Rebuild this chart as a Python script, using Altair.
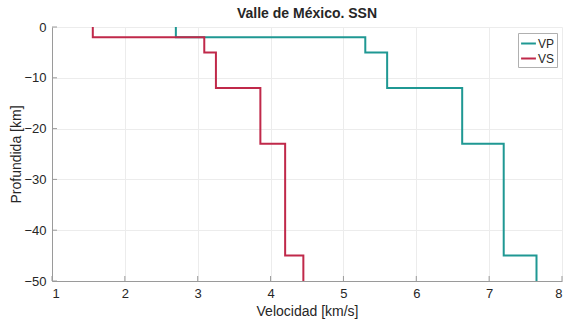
import altair as alt
import pandas as pd

# Layer boundaries (depth in km, negative downward)
depth_top = [0, -2, -5, -12, -23, -45]
depth_bottom = [-2, -5, -12, -23, -45, -50]
vp = [2.7, 5.3, 5.6, 6.63, 7.2, 7.65]
vs = [1.56, 3.09, 3.25, 3.86, 4.2, 4.45]
series = ["VP", "VS"]
colors = ["#1f9893", "#c0294a"]
x_ticks = [1, 2, 3, 4, 5, 6, 7, 8]
y_ticks = [0, -10, -20, -30, -40, -50]

rows = []
for name, vals in (("VP", vp), ("VS", vs)):
    k = 0
    for t, b, v in zip(depth_top, depth_bottom, vals):
        rows.append({"serie": name, "v": v, "z": t, "k": k}); k += 1
        rows.append({"serie": name, "v": v, "z": b, "k": k}); k += 1
df = pd.DataFrame(rows)

font = "Liberation Sans"
xscale = alt.Scale(domain=[1, 8], nice=False)
yscale = alt.Scale(domain=[-50, 0], nice=False)

lines = alt.Chart(df).mark_line(strokeWidth=2, clip=True).encode(
    x=alt.X("v:Q", scale=xscale,
            axis=alt.Axis(values=x_ticks, title="Velocidad [km/s]", format="d",
                          titlePadding=4)),
    y=alt.Y("z:Q", scale=yscale,
            axis=alt.Axis(values=y_ticks, title="Profundida [km]", format="d",
                          titlePadding=0)),
    color=alt.Color("serie:N", scale=alt.Scale(domain=series, range=colors),
                    legend=alt.Legend(title=None, orient="none", legendX=466, legendY=6,
                                      symbolType="stroke", symbolStrokeWidth=2,
                                      symbolSize=220, labelFontSize=12, labelFont=font,
                                      labelColor="#262626", rowPadding=0,
                                      strokeColor="#b0b0b0", fillColor="white",
                                      padding=2, labelOffset=1)),
    order="k:Q",
)

xt = alt.Chart(pd.DataFrame({"t": x_ticks})).mark_rule(color="#9a9a9a", strokeWidth=1).encode(
    x=alt.X("t:Q", scale=xscale), y=alt.value(254), y2=alt.value(249))
yt = alt.Chart(pd.DataFrame({"t": y_ticks})).mark_rule(color="#9a9a9a", strokeWidth=1).encode(
    y=alt.Y("t:Q", scale=yscale), x=alt.value(0), x2=alt.value(5))

chart = alt.layer(xt, yt, lines).properties(
    width=510, height=254,
    title=alt.TitleParams("Valle de México. SSN", fontSize=14, font=font,
                          fontWeight="bold", color="#262626", offset=0),
    autosize=alt.AutoSizeParams(type="none"),
    padding={"left": 52, "top": 27, "right": 1, "bottom": 41},
).configure_axis(
    labelFont=font, titleFont=font, labelFontSize=13, titleFontSize=14,
    labelColor="#262626", titleColor="#262626", titleFontWeight="normal",
    domainColor="#9a9a9a", gridColor="#ececec", tickColor="#9a9a9a",
    ticks=False, labelPadding=6,
).configure_view(stroke=None)

chart.save("out.html", embed_options={"renderer": "svg", "actions": False})
